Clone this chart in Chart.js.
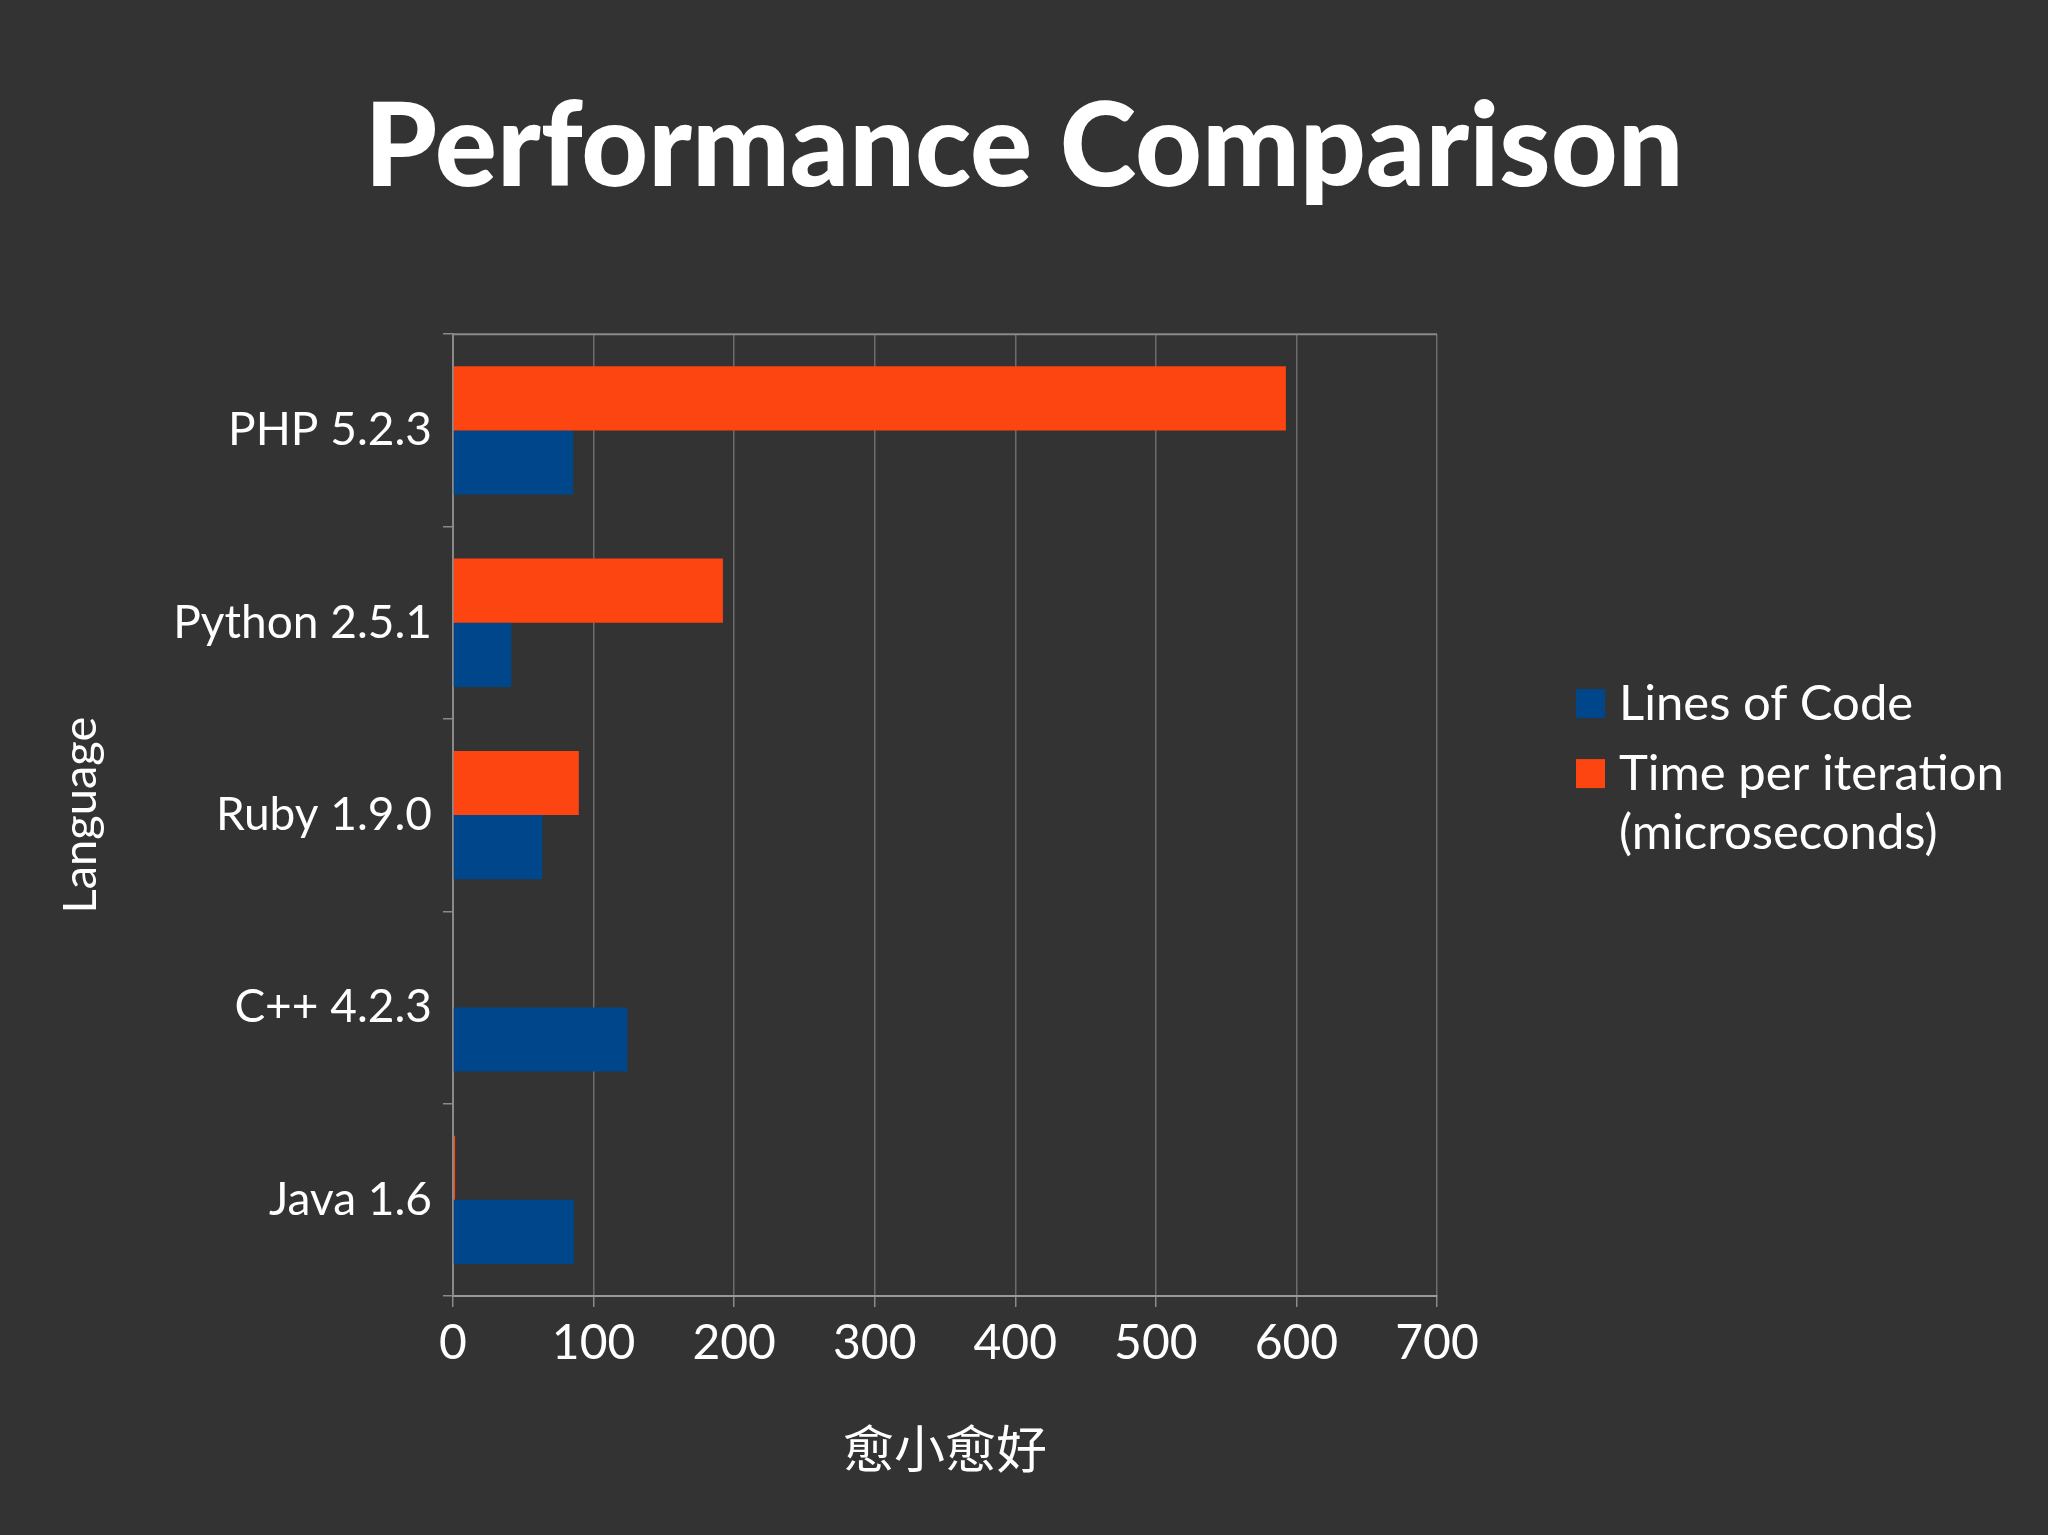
<!DOCTYPE html>
<html>
<head>
<meta charset="utf-8">
<title>Performance Comparison</title>
<script src="https://cdn.jsdelivr.net/npm/chart.js@4.4.1/dist/chart.umd.min.js"></script>
<style>
  html, body { margin: 0; padding: 0; background: #333333; overflow: hidden; }
  canvas { display: block; }
</style>
</head>
<body>
<canvas id="perf" width="2048" height="1535"></canvas>
<script>
// Data

var languages = ["PHP 5.2.3", "Python 2.5.1", "Ruby 1.9.0", "C++ 4.2.3", "Java 1.6"];
var linesOfCode = [85.5, 41.5, 63.5, 124, 86];
var timePerIteration = [592.5, 192, 89.5, 0, 1.5];
var xTickValues = [0, 100, 200, 300, 400, 500, 600, 700];

var seriesLines = "Lines of Code";
var seriesTime = "Time per iteration (microseconds)";
var legendItems = [
  { color: "#00468b", lines: ["Lines of Code"] },
  { color: "#fd4512", lines: ["Time per iteration", "(microseconds)"] }
];

var fontFamily = "Lato, 'Noto Sans CJK TC', 'Noto Sans CJK SC', sans-serif";

// Side legend as a layout box (keeps the title centred on the whole canvas)

var sideLegend = {
  id: "sideLegend",
  beforeInit: function (chart) {
    var box = {
      position: "right",
      weight: 1000,
      fullSize: false,
      options: {},
      isHorizontal: function () { return false; },
      update: function (maxWidth, maxHeight) {
        this.width = 611;
        this.height = maxHeight;
        return { width: this.width, height: this.height };
      },
      draw: function () {}
    };
    Chart.layouts.addBox(chart, box);
  },
  beforeDatasetsDraw: function (chart) {
    // top border of the plot
    var a = chart.chartArea, ctx = chart.ctx;
    ctx.save();
    ctx.strokeStyle = "#8a8a8a";
    ctx.lineWidth = 2;
    ctx.beginPath();
    ctx.moveTo(a.left, a.top);
    ctx.lineTo(a.right, a.top);
    ctx.stroke();
    ctx.restore();
  },
  afterDraw: function (chart) {
    var a = chart.chartArea, ctx = chart.ctx;
    var x = a.right + 139;
    var y = (a.top + a.bottom) / 2 - 111;
    ctx.save();
    ctx.font = "49px " + fontFamily;
    ctx.textBaseline = "middle";
    ctx.textAlign = "left";
    legendItems.forEach(function (item) {
      ctx.fillStyle = item.color;
      ctx.fillRect(x, y - 15, 29, 29);
      ctx.fillStyle = "#ffffff";
      item.lines.forEach(function (t, i) {
        ctx.fillText(t, x + 43, y + i * 59);
      });
      y += 70 + (item.lines.length - 1) * 59;
    });
    ctx.restore();
  }
};

// Bar chart

new Chart(document.getElementById("perf"), {
  type: "bar",
  data: {
    labels: languages,
    datasets: [
      {
        label: seriesTime,
        data: timePerIteration,
        backgroundColor: "#fd4512",
        categoryPercentage: 0.667,
        barPercentage: 1.0
      },
      {
        label: seriesLines,
        data: linesOfCode,
        backgroundColor: "#00468b",
        categoryPercentage: 0.667,
        barPercentage: 1.0
      }
    ]
  },
  plugins: [sideLegend],
  options: {
    indexAxis: "y",
    responsive: false,
    animation: false,
    devicePixelRatio: 1,
    layout: {
      padding: 0
    },
    plugins: {
      legend: { display: false },
      tooltip: { enabled: false },
      title: {
        display: true,
        text: "Performance Comparison",
        color: "#ffffff",
        font: { family: fontFamily, size: 116, weight: "900", lineHeight: 1.2 },
        padding: { top: 79, bottom: 116 }
      }
    },
    scales: {
      x: {
        min: 0,
        max: 700,
        afterBuildTicks: function (scale) {
          scale.ticks = xTickValues.map(function (v) { return { value: v }; });
        },
        afterFit: function (scale) { scale.height = 239; },
        grid: {
          color: "#6c6c6c",
          lineWidth: 1.5,
          tickLength: 11,
          tickColor: "#8a8a8a"
        },
        border: { color: "#9a9a9a", width: 2 },
        ticks: {
          color: "#ffffff",
          padding: 8,
          font: { family: fontFamily, size: 48 }
        },
        title: {
          display: true,
          text: "愈小愈好",
          color: "#ffffff",
          font: { family: fontFamily, size: 51, lineHeight: 1.2 },
          padding: { top: 0, bottom: 53 }
        }
      },
      y: {
        afterFit: function (scale) { scale.width = 453; },
        grid: {
          offset: true,
          drawOnChartArea: false,
          tickLength: 10,
          color: "#8a8a8a",
          lineWidth: 1.5
        },
        border: { color: "#8a8a8a", width: 2 },
        ticks: {
          color: "#ffffff",
          padding: 11,
          font: { family: fontFamily, size: 46 }
        },
        title: {
          display: true,
          text: "Language",
          color: "#ffffff",
          font: { family: fontFamily, size: 47, lineHeight: 1.2 },
          padding: { top: 53, bottom: 0 }
        }
      }
    }
  }
});
</script>
</body>
</html>
